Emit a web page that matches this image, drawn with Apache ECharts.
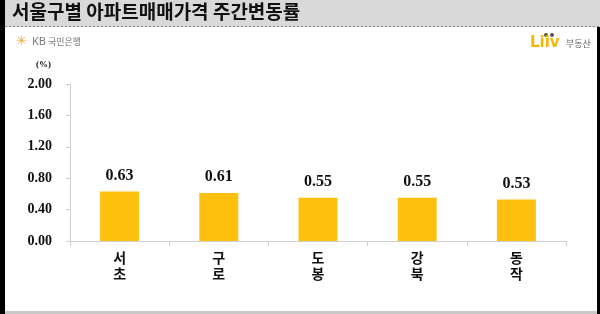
<!DOCTYPE html>
<html><head><meta charset="utf-8">
<script src="https://cdn.jsdelivr.net/npm/echarts@6/dist/echarts.min.js"></script>
<style>html,body{margin:0;padding:0;background:#fff}#c{width:600px;height:314px}</style>
</head><body><div id="c"></div>
<script>
const categories = ['서\n초', '구\n로', '도\n봉', '강\n북', '동\n작'];
const values = [0.63, 0.61, 0.55, 0.55, 0.53];
const yTicks = [0, 0.4, 0.8, 1.2, 1.6, 2.0];
const title = '서울구별 아파트매매가격 주간변동률';

const chart = echarts.init(document.getElementById('c'), null, {renderer: 'canvas'});
chart.setOption({
  backgroundColor: '#fff',
  animation: false,
  grid: {left: 70, right: 34, top: 84, bottom: 73},
  xAxis: {
    type: 'category', data: categories,
    axisLine: {lineStyle: {color: '#d0d0d0'}},
    axisTick: {show: true, length: 5, lineStyle: {color: '#d0d0d0'}},
    axisLabel: {color: '#111', fontWeight: 'bold', fontSize: 14, lineHeight: 16, margin: 9, fontFamily: 'Noto Sans CJK KR'}
  },
  yAxis: {
    type: 'value', min: 0, max: 2, interval: 0.4,
    axisLine: {show: true, lineStyle: {color: '#d0d0d0'}},
    axisTick: {show: true, length: 4, lineStyle: {color: '#d0d0d0'}},
    splitLine: {show: false},
    axisLabel: {color: '#111', fontWeight: 'bold', fontSize: 14, margin: 18, fontFamily: 'Liberation Serif',
      formatter: v => yTicks.includes(Math.round(v*10)/10) ? v.toFixed(2) : ''}
  },
  series: [{
    type: 'bar', data: values, barWidth: 39,
    itemStyle: {color: '#fdc00f'},
    label: {show: true, position: 'top', distance: 8, formatter: p => p.value.toFixed(2),
      color: '#111', fontWeight: 'bold', fontSize: 16, fontFamily: 'Liberation Serif'}
  }],
  graphic: [
    {type: 'rect', shape: {x: 0, y: 0, width: 600, height: 27}, style: {fill: '#d9d9d9'}},
    {type: 'line', shape: {x1: 5, y1: 26.5, x2: 600, y2: 26.5}, style: {stroke: '#888', lineWidth: 1, lineDash: [2, 2]}},
    {type: 'rect', shape: {x: 0, y: 0, width: 5, height: 314}, style: {fill: '#000'}},
    {type: 'rect', shape: {x: 597, y: 27, width: 3, height: 287}, style: {fill: '#000'}},
    {type: 'rect', shape: {x: 5, y: 311, width: 592, height: 3}, style: {fill: '#c8c8c8'}},
    {type: 'text', left: 12, top: 2, style: {text: title, fill: '#111', font: 'bold 19px "Noto Sans CJK KR"'}},
    {type: 'text', left: 16, top: 35, style: {text: '✳', fill: '#f5a623', font: 'bold 13px "DejaVu Sans"'}},
    {type: 'text', left: 32, top: 36, style: {text: 'KB', fill: '#777', font: '11px "Noto Sans"'}},
    {type: 'text', left: 48, top: 37, style: {text: '국민은행', fill: '#777', font: '9px "Noto Sans CJK KR"'}},
    {type: 'circle', shape: {cx: 546, cy: 35, r: 2}, style: {fill: '#555'}},
    {type: 'circle', shape: {cx: 552, cy: 35, r: 2}, style: {fill: '#555'}},
    {type: 'text', left: 530, top: 36, style: {text: 'Liiv', fill: '#f5b800', font: 'bold 15px "DejaVu Sans"'}},
    {type: 'text', left: 566, top: 39, style: {text: '부동산', fill: '#666', font: '9px "Noto Sans CJK KR"'}},
    {type: 'text', left: 36, top: 60, style: {text: '(%)', fill: '#111', font: 'bold 9px "Liberation Serif"'}}
  ]
});
</script></body></html>
